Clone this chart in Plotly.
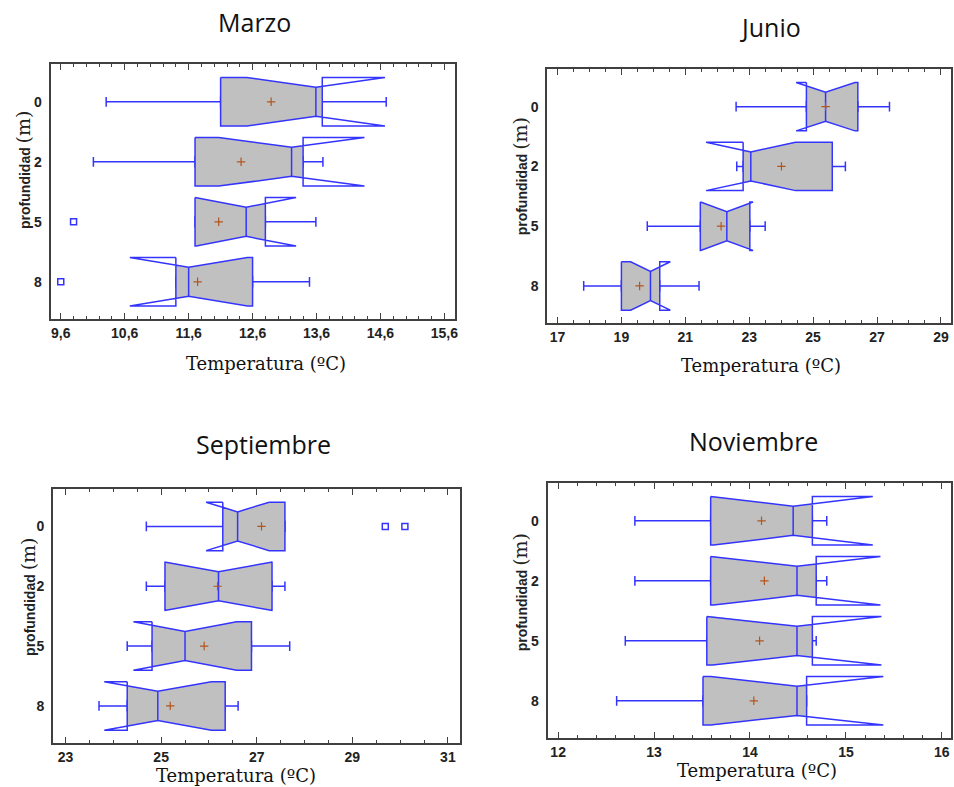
import plotly.graph_objects as go

W, H = 954, 787

months = ["Marzo", "Junio", "Septiembre", "Noviembre"]
depths = ["0", "2", "5", "8"]
depth_pos = [0, 1, 2, 3]

# ---- Marzo ----
marzo_q1 = [12.10, 11.70, 11.70, 11.40]
marzo_med = [13.59, 13.21, 12.50, 11.60]
marzo_q3 = [13.69, 13.39, 12.80, 12.60]
marzo_lo = [10.31, 10.11, 11.70, 11.40]
marzo_hi = [14.69, 13.70, 13.59, 13.49]
marzo_notch = [1.08, 1.14, 0.78, 0.92]
marzo_mean = [12.89, 12.42, 12.07, 11.74]
marzo_out_y = [2, 3]
marzo_out_x = [9.80, 9.60]
marzo_ticks = [9.6, 10.6, 11.6, 12.6, 13.6, 14.6, 15.6]
marzo_ticktext = ["9,6", "10,6", "11,6", "12,6", "13,6", "14,6", "15,6"]

# ---- Junio ----
junio_q1 = [24.79, 22.81, 21.47, 19.00]
junio_med = [25.39, 23.05, 22.30, 19.91]
junio_q3 = [26.40, 25.60, 23.02, 20.20]
junio_lo = [22.59, 22.61, 19.81, 17.82]
junio_hi = [27.39, 26.01, 23.50, 21.43]
junio_notch = [0.92, 1.40, 0.82, 0.62]
junio_mean = [25.39, 24.01, 22.12, 19.57]
junio_out_y = []
junio_out_x = []
junio_ticks = [17, 19, 21, 23, 25, 27, 29]
junio_ticktext = ["17", "19", "21", "23", "25", "27", "29"]

# ---- Septiembre ----
sept_q1 = [26.29, 25.08, 24.81, 24.29]
sept_med = [26.60, 26.20, 25.50, 24.93]
sept_q3 = [27.59, 27.32, 26.89, 26.34]
sept_lo = [24.69, 24.69, 24.29, 23.70]
sept_hi = [27.59, 27.59, 27.69, 26.61]
sept_notch = [0.66, 1.13, 1.08, 1.12]
sept_mean = [27.10, 26.18, 25.90, 25.19]
sept_out_y = [0, 0]
sept_out_x = [29.69, 30.10]
sept_ticks = [23, 25, 27, 29, 31]
sept_ticktext = ["23", "25", "27", "29", "31"]

# ---- Noviembre ----
nov_q1 = [13.59, 13.59, 13.55, 13.51]
nov_med = [14.45, 14.49, 14.49, 14.49]
nov_q3 = [14.65, 14.69, 14.65, 14.59]
nov_lo = [12.80, 12.80, 12.70, 12.61]
nov_hi = [14.80, 14.80, 14.69, 14.59]
nov_notch = [0.83, 0.87, 0.88, 0.90]
nov_mean = [14.12, 14.15, 14.10, 14.04]
nov_out_y = []
nov_out_x = []
nov_ticks = [12, 13, 14, 15, 16]
nov_ticktext = ["12", "13", "14", "15", "16"]

panels = [
    dict(name="Marzo", q1=marzo_q1, med=marzo_med, q3=marzo_q3, lo=marzo_lo, hi=marzo_hi,
         notch=marzo_notch, mean=marzo_mean, oy=marzo_out_y, ox=marzo_out_x,
         ticks=marzo_ticks, ticktext=marzo_ticktext, rng=[9.44, 15.77], minor=0.2,
         box=(50.7, 456.7, 64.3, 319.3), title=(255, 22), xt=(267, 363), yt=(23, 170)),
    dict(name="Junio", q1=junio_q1, med=junio_med, q3=junio_q3, lo=junio_lo, hi=junio_hi,
         notch=junio_notch, mean=junio_mean, oy=junio_out_y, ox=junio_out_x,
         ticks=junio_ticks, ticktext=junio_ticktext, rng=[16.68, 29.30], minor=0.5,
         box=(549.0, 953.5, 69.3, 323.3), title=(773, 27), xt=(763, 365), yt=(522, 176)),
    dict(name="Septiembre", q1=sept_q1, med=sept_med, q3=sept_q3, lo=sept_lo, hi=sept_hi,
         notch=sept_notch, mean=sept_mean, oy=sept_out_y, ox=sept_out_x,
         ticks=sept_ticks, ticktext=sept_ticktext, rng=[22.74, 31.25], minor=0.5,
         box=(53.3, 461.3, 489.0, 743.3), title=(264, 444), xt=(237, 775), yt=(28, 597)),
    dict(name="Noviembre", q1=nov_q1, med=nov_med, q3=nov_q3, lo=nov_lo, hi=nov_hi,
         notch=nov_notch, mean=nov_mean, oy=nov_out_y, ox=nov_out_x,
         ticks=nov_ticks, ticktext=nov_ticktext, rng=[11.89, 16.09], minor=0.2,
         box=(549.3, 953.5, 483.3, 738.3), title=(756, 441), xt=(759, 770), yt=(522, 592)),
]

BLUE = "#3434ff"
GREY = "#c0c0c0"
BROWN = "#b2561e"
FRAME = "#404040"
BOX_W = 0.81          # box height in category units
WAIST = 0.6           # waist height relative to box height at the median
CAP = 0.2             # whisker cap length relative to box height
YRANGE = [3.625, -0.625]


def notch_geometry(q1, med, q3, ns):
    half = BOX_W / 2
    waist = half * WAIST
    return half, waist, med - ns, med + ns


def fill_outline(q1, med, q3, ns, pos):
    """Grey region of a notched box: the box clipped by the notch outline."""
    half, waist, ln, un = notch_geometry(q1, med, q3, ns)
    top = []
    if ln >= q1:
        top += [(q1, half), (ln, half)]
    else:
        top += [(q1, waist + (half - waist) * (med - q1) / (med - ln))]
    top.append((med, waist))
    if un <= q3:
        top += [(un, half), (q3, half)]
    else:
        top += [(q3, waist + (half - waist) * (q3 - med) / (un - med))]
    pts = [(x, pos - d) for x, d in top] + [(x, pos + d) for x, d in reversed(top)]
    pts.append(pts[0])
    return [p[0] for p in pts], [p[1] for p in pts]


def notch_outline(q1, med, q3, ns, pos):
    """Full notched outline (with folds) plus median segment."""
    half, waist, ln, un = notch_geometry(q1, med, q3, ns)
    xs = [q1, q1, ln, med, un, q3, q3, un, med, ln, q1, None, med, med, None]
    ys = [pos - half, pos + half, pos + half, pos + waist, pos + half, pos + half,
          pos - half, pos - half, pos - waist, pos - half, pos - half, None,
          pos - waist, pos + waist, None]
    return xs, ys


fig = go.Figure()
annotations = []
layout_axes = {}

for i, p in enumerate(panels):
    n = i + 1
    xa = "x" if n == 1 else f"x{n}"
    ya = "y" if n == 1 else f"y{n}"

    # whiskers and caps (box layer, drawn beneath the scatter layer; its thin body is hidden by the fill)
    fig.add_trace(go.Box(
        orientation="h", y=depth_pos, q1=p["q1"], median=p["med"], q3=p["q3"],
        lowerfence=p["lo"], upperfence=p["hi"], notchspan=[0.001] * len(depths),
        notched=False, whiskerwidth=1.0, width=BOX_W * CAP,
        fillcolor="rgba(0,0,0,0)", line=dict(color=BLUE, width=1.5),
        boxpoints=False, hoverinfo="skip", showlegend=False,
        xaxis=xa, yaxis=ya))

    # grey fill
    fx_all, fy_all = [], []
    ox_all, oy_all = [], []
    for k in range(len(depths)):
        fx, fy = fill_outline(p["q1"][k], p["med"][k], p["q3"][k], p["notch"][k], depth_pos[k])
        fx_all += fx + [None]
        fy_all += fy + [None]
        ox, oy = notch_outline(p["q1"][k], p["med"][k], p["q3"][k], p["notch"][k], depth_pos[k])
        ox_all += ox
        oy_all += oy
    fig.add_trace(go.Scatter(x=fx_all, y=fy_all, mode="lines", fill="toself", fillcolor=GREY,
                             line=dict(width=0, color=GREY), hoverinfo="skip",
                             showlegend=False, xaxis=xa, yaxis=ya))
    # notched outline
    fig.add_trace(go.Scatter(x=ox_all, y=oy_all, mode="lines",
                             line=dict(width=1.5, color=BLUE), hoverinfo="skip",
                             showlegend=False, xaxis=xa, yaxis=ya))
    # means
    fig.add_trace(go.Scatter(
        x=p["mean"], y=depth_pos, mode="markers",
        marker=dict(symbol="cross-thin", size=6, line=dict(color=BROWN, width=1.2)),
        showlegend=False, hoverinfo="skip", xaxis=xa, yaxis=ya))
    # outliers
    if p["ox"]:
        fig.add_trace(go.Scatter(
            x=p["ox"], y=p["oy"], mode="markers",
            marker=dict(symbol="square-open", size=6, color=BLUE, line=dict(color=BLUE, width=1.5)),
            showlegend=False, hoverinfo="skip", xaxis=xa, yaxis=ya))

    x0, x1, y0, y1 = p["box"]
    xkey = "xaxis" if n == 1 else f"xaxis{n}"
    ykey = "yaxis" if n == 1 else f"yaxis{n}"
    layout_axes[xkey] = dict(
        domain=[x0 / W, min(x1 / W, 1.0)], anchor=ya, range=p["rng"],
        tickmode="array", tickvals=p["ticks"], ticktext=p["ticktext"],
        ticks="inside", ticklen=6, tickwidth=1.3, tickcolor=FRAME,
        minor=dict(ticks="inside", dtick=p["minor"], tick0=p["ticks"][0], ticklen=3,
                   tickwidth=1, tickcolor=FRAME, showgrid=False),
        showline=True, linecolor=FRAME, linewidth=2, mirror="ticks",
        showgrid=False, zeroline=False,
        tickfont=dict(family="Liberation Sans", size=14, color="#222", weight="bold"),
    )
    layout_axes[ykey] = dict(
        domain=[1 - y1 / H, 1 - y0 / H], anchor=xa, range=YRANGE,
        tickmode="array", tickvals=depth_pos, ticktext=depths,
        ticks="", showline=True, linecolor=FRAME, linewidth=2, mirror=True,
        showgrid=False, zeroline=False, ticklabelstandoff=4,
        tickfont=dict(family="Liberation Sans", size=14, color="#222", weight="bold"),
    )

    tx, ty = p["title"]
    annotations.append(dict(text=p["name"], x=tx / W, y=1 - ty / H, xref="paper", yref="paper",
                            showarrow=False, xanchor="center", yanchor="middle",
                            font=dict(family="Open Sans", size=25, color="#111")))
    ax, ay = p["xt"]
    annotations.append(dict(text="Temperatura (ºC)", x=ax / W, y=1 - ay / H, xref="paper", yref="paper",
                            showarrow=False, xanchor="center", yanchor="middle",
                            font=dict(family="DejaVu Serif", size=18, color="#111")))
    yx, yy = p["yt"]
    annotations.append(dict(
        text="<b>profundidad</b> <span style='font-family:DejaVu Serif;font-size:19px'>(m)</span>",
        x=yx / W, y=1 - yy / H, xref="paper", yref="paper", textangle=-90,
        showarrow=False, xanchor="center", yanchor="middle",
        font=dict(family="Liberation Sans", size=14, color="#222")))

fig.update_layout(
    width=W, height=H, margin=dict(l=0, r=0, t=0, b=0),
    paper_bgcolor="white", plot_bgcolor="white",
    annotations=annotations, **layout_axes)

fig.write_html("out.html", config={"displayModeBar": False},
               post_script="document.body.style.margin='0';document.body.style.overflow='hidden';")
